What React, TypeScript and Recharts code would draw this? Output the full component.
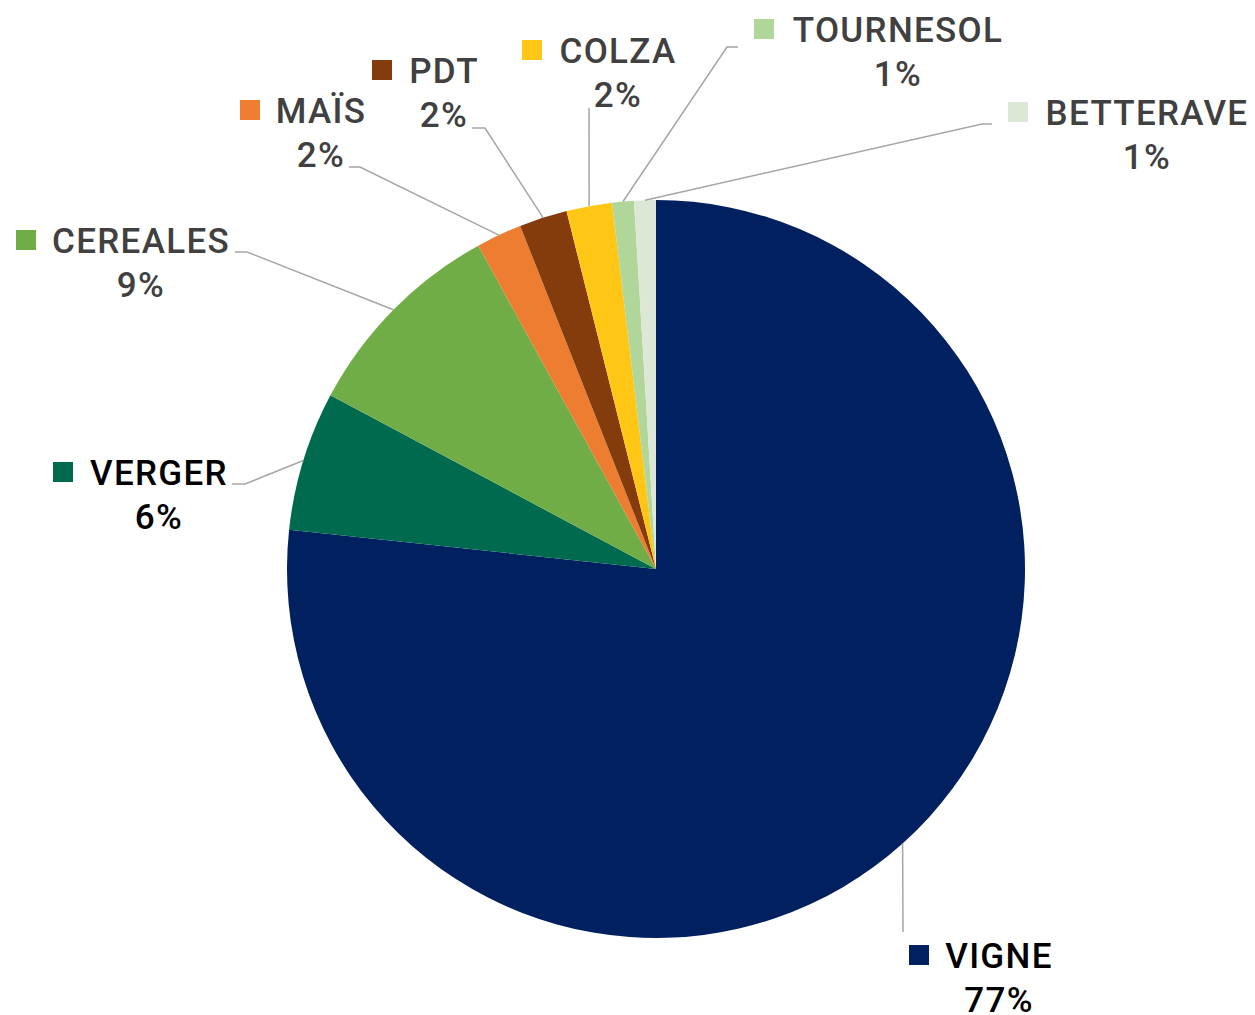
import { Cell, Pie, PieChart } from "recharts";

const crops = ["VIGNE", "VERGER", "CEREALES", "MAÏS", "PDT", "COLZA", "TOURNESOL", "BETTERAVE"];
const shares = [76.7, 6.1, 9.2, 2.0, 2.1, 2.0, 0.95, 0.95];

const colors = ["#002060", "#006A4E", "#70AD47", "#ED7D31", "#843C0C", "#FFC616", "#B0D69A", "#DCE7D6"];
const textColors = ["#000000", "#000000", "#404040", "#404040", "#404040", "#404040", "#404040", "#404040"];

// label placement (square left, text centre, name baseline, elbow of leader, end of tail)
const labelSpots = [
  { sq: 909, tx: 999, by: 968, elbow: [903, 932], tail: 903 },
  { sq: 53, tx: 159, by: 485, elbow: [245, 484], tail: 232 },
  { sq: 16, tx: 141, by: 253, elbow: [247, 252], tail: 235 },
  { sq: 240, tx: 321, by: 123, elbow: [360, 167], tail: 349 },
  { sq: 372, tx: 444, by: 83, elbow: [485, 128], tail: 472 },
  { sq: 522, tx: 618, by: 63, elbow: [589, 108], tail: 589 },
  { sq: 754, tx: 898, by: 42, elbow: [727, 47], tail: 738 },
  { sq: 1008, tx: 1147, by: 125, elbow: [982, 124], tail: 992 },
];

const data = crops.map((name, i) => ({ name, value: shares[i] }));
const RADIAN = Math.PI / 180;
const labelFont = { fontFamily: "Roboto, sans-serif", fontSize: 35, fontWeight: 500, letterSpacing: 1.3 };

function renderLabel(props: any) {
  const { cx, cy, midAngle, outerRadius, index, percent } = props;
  const spot = labelSpots[index];
  const sx = cx + outerRadius * Math.cos(-midAngle * RADIAN);
  const sy = cy + outerRadius * Math.sin(-midAngle * RADIAN);
  const [ex, ey] = spot.elbow;
  return (
    <g>
      <polyline
        points={`${sx},${sy} ${ex},${ey} ${spot.tail},${ey}`}
        fill="none"
        stroke="#A6A6A6"
        strokeWidth={1.5}
      />
      <rect x={spot.sq} y={spot.by - 23} width={20} height={20} fill={colors[index]} />
      <text x={spot.tx} y={spot.by} textAnchor="middle" fill={textColors[index]} style={labelFont}>
        {crops[index]}
      </text>
      <text x={spot.tx} y={spot.by + 44} textAnchor="middle" fill={textColors[index]} style={labelFont}>
        {Math.round(percent * 100)}%
      </text>
    </g>
  );
}

export default function App() {
  return (
    <div style={{ position: "absolute", left: 0, top: 0, width: 1255, height: 1015, background: "#fff" }}>
      <PieChart width={1255} height={1015} margin={{ top: 0, right: 0, bottom: 0, left: 0 }}>
        <Pie
          data={data}
          dataKey="value"
          nameKey="name"
          cx={656}
          cy={569}
          outerRadius={369}
          startAngle={90}
          endAngle={-270}
          stroke="none"
          label={renderLabel}
          labelLine={false}
          isAnimationActive={false}
        >
          {data.map((d, i) => (
            <Cell key={d.name} fill={colors[i]} />
          ))}
        </Pie>
      </PieChart>
    </div>
  );
}
